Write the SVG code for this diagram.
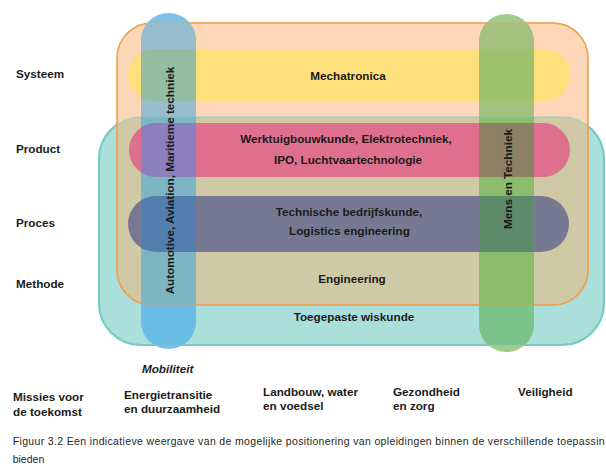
<svg xmlns="http://www.w3.org/2000/svg" width="606" height="466" viewBox="0 0 606 466">
<style>
.t{font-family:"Liberation Sans",Arial,sans-serif;font-weight:bold;font-size:11.7px;fill:#1b1b1b}
.c{text-anchor:middle}
.cap{font-family:"Liberation Sans",Arial,sans-serif;font-size:10.5px;fill:#262626}
</style>
<defs>
<rect id="sTeal" x="99" y="117" width="505" height="228" rx="42"/>
<rect id="sOrange" x="117" y="23" width="471" height="282" rx="35"/>
<rect id="sYellow" x="128" y="49" width="442" height="52" rx="26"/>
<rect id="sPink" x="129" y="123" width="441" height="54" rx="27"/>
<rect id="sPurple" x="128" y="196" width="441" height="56" rx="28"/>
<rect id="sBlue" x="141" y="13" width="55" height="336" rx="27.5"/>
<rect id="sGreen" x="479" y="14" width="55" height="338" rx="27.5"/>
<clipPath id="cTeal"><use href="#sTeal"/></clipPath>
<clipPath id="cBlue"><use href="#sBlue"/></clipPath>
<clipPath id="cGreen"><use href="#sGreen"/></clipPath>
</defs>
<rect width="606" height="466" fill="#ffffff"/>

<g id="toegepaste-wiskunde">
<use href="#sTeal" fill="#AADFDC" stroke="#72CCC1" stroke-width="2"/>
<text class="t c" x="354" y="321">Toegepaste wiskunde</text>
</g>

<g id="engineering">
<use href="#sOrange" fill="#FCD7B8"/>
<g clip-path="url(#cTeal)"><use href="#sOrange" fill="#CFC9A5"/></g>
<use href="#sOrange" fill="none" stroke="#EFA04E" stroke-width="1.5"/>
<text class="t c" x="352" y="283">Engineering</text>
</g>

<g id="mechatronica">
<use href="#sYellow" fill="#FDE07C"/>
<text class="t c" x="348" y="80">Mechatronica</text>
</g>

<g id="product">
<use href="#sPink" fill="#DE6F8E"/>
<text class="t c" x="346" y="143">Werktuigbouwkunde, Elektrotechniek,</text>
<text class="t c" x="348" y="163.5">IPO, Luchtvaartechnologie</text>
</g>

<g id="proces">
<use href="#sPurple" fill="#767991"/>
<text class="t c" x="349" y="215.5">Technische bedrijfskunde,</text>
<text class="t c" x="349.5" y="235">Logistics engineering</text>
</g>

<g id="mobiliteit-pill">
<g clip-path="url(#cBlue)">
<rect x="141" y="13" width="55" height="336" fill="#7EC1E8"/>
<use href="#sTeal" fill="#6BBDE5"/>
<use href="#sOrange" fill="#97BCCB"/>
<g clip-path="url(#cTeal)"><use href="#sOrange" fill="#7EB5C3"/></g>
<use href="#sYellow" fill="#93BCA0"/>
<use href="#sPink" fill="#8B7FBD"/>
<use href="#sPurple" fill="#527FAE"/>
</g>
<text class="t c" transform="translate(173.5,180.5) rotate(-90)" x="0" y="0">Automotive, Aviation, Maritieme techniek</text>
</g>

<g id="mens-en-techniek">
<g clip-path="url(#cGreen)">
<rect x="479" y="14" width="55" height="338" fill="#A2CB8E"/>
<use href="#sTeal" fill="#7DC48A"/>
<use href="#sOrange" fill="#A4C27E"/>
<g clip-path="url(#cTeal)"><use href="#sOrange" fill="#8BBD6D"/></g>
<use href="#sYellow" fill="#9DC26B"/>
<use href="#sPink" fill="#8E8163"/>
<use href="#sPurple" fill="#5D8A69"/>
</g>
<text class="t c" transform="translate(511.5,179) rotate(-90)" x="0" y="0">Mens en Techniek</text>
</g>

<g id="outline-overlay" fill="none" opacity="0.35">
<use href="#sTeal" stroke="#72CCC1" stroke-width="2"/>
<use href="#sOrange" stroke="#EFA04E" stroke-width="1.5"/>
</g>

<g id="connectors"/>

<g id="row-labels">
<text class="t" x="16" y="78">Systeem</text>
<text class="t" x="16" y="153">Product</text>
<text class="t" x="16" y="227">Proces</text>
<text class="t" x="16" y="288">Methode</text>
</g>

<g id="missions">
<text class="t" x="142" y="373" font-style="italic">Mobiliteit</text>
<text class="t" x="13" y="401">Missies voor</text>
<text class="t" x="13" y="416">de toekomst</text>
<text class="t" x="124" y="398.5">Energietransitie</text>
<text class="t" x="124" y="413">en duurzaamheid</text>
<text class="t" x="263" y="395.5">Landbouw, water</text>
<text class="t" x="263" y="410">en voedsel</text>
<text class="t" x="393" y="396">Gezondheid</text>
<text class="t" x="393" y="410">en zorg</text>
<text class="t" x="518" y="395.5">Veiligheid</text>
</g>

<g id="caption">
<text class="cap" x="12.7" y="445" textLength="592" lengthAdjust="spacing">Figuur 3.2 Een indicatieve weergave van de mogelijke positionering van opleidingen binnen de verschillende toepassin</text>
<text class="cap" x="12.7" y="463">bieden</text>
</g>
</svg>
